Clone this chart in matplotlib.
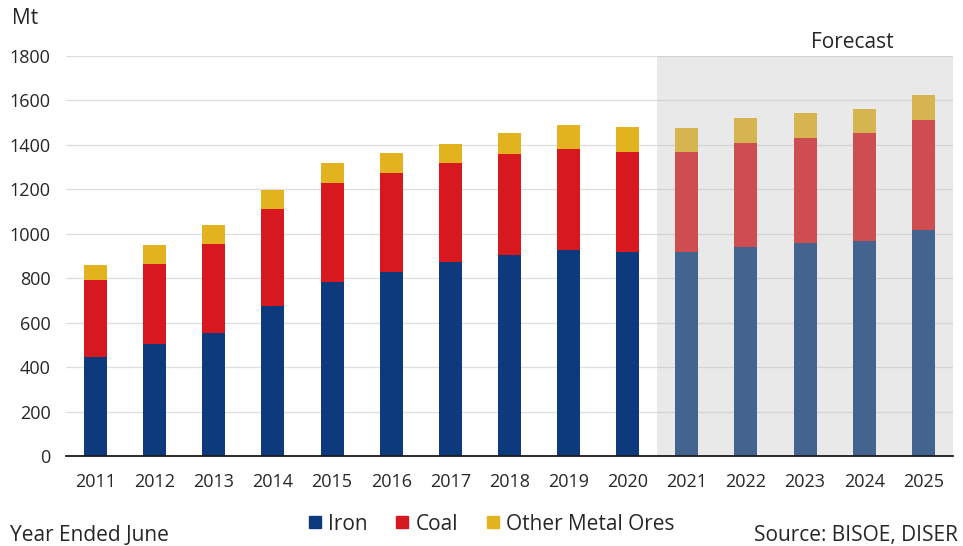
import matplotlib
matplotlib.use("Agg")
import matplotlib.pyplot as plt
from matplotlib.patches import Rectangle
from matplotlib.lines import Line2D
import numpy as np

plt.rcParams['font.family'] = ['Open Sans', 'DejaVu Sans']

years = ['2011', '2012', '2013', '2014', '2015', '2016', '2017', '2018',
         '2019', '2020', '2021', '2022', '2023', '2024', '2025']
iron = [446, 504, 553, 675, 784, 829, 874, 904, 927, 918, 918, 940, 958, 968, 1017]
coal = [346, 360, 401, 436, 445, 445, 444, 455, 455, 450, 450, 468, 473, 485, 495]
other = [68, 86, 86, 86, 89, 89, 86, 94, 108, 113, 108, 113, 112, 108, 112]
forecast_start = '2021'

c_iron = '#0c3a7c'
c_coal = '#d7191f'
c_other = '#e3b21f'
txt = '#262626'

fig = plt.figure(figsize=(9.63, 5.46), dpi=100)
ax = fig.add_axes([0.0685, 0.1648, 0.921, 0.7326])

x = np.arange(len(years))
w = 0.39
iron_a = np.array(iron)
coal_a = np.array(coal)
other_a = np.array(other)
ax.bar(x, iron_a, w, color=c_iron, zorder=2)
ax.bar(x, coal_a, w, bottom=iron_a, color=c_coal, zorder=2)
ax.bar(x, other_a, w, bottom=iron_a + coal_a, color=c_other, zorder=2)

ax.set_xlim(-0.5, len(years) - 0.5)
ax.set_ylim(0, 1800)
ax.set_yticks(np.arange(0, 1801, 200))
ax.set_xticks(x)
ax.set_xticklabels(years)
ax.grid(axis='y', color='#dedede', linewidth=0.9, zorder=0)
ax.set_axisbelow(True)
for s in ['top', 'right', 'left']:
    ax.spines[s].set_visible(False)
ax.spines['bottom'].set_color('#1a1a1a')
ax.spines['bottom'].set_linewidth(1.3)
ax.spines['bottom'].set_zorder(5)
ax.tick_params(length=0, labelsize=13, colors=txt)
ax.tick_params(axis='x', pad=12)
ax.tick_params(axis='y', pad=11)

# shaded forecast period
fs = years.index(forecast_start) - 0.5
ax.add_patch(Rectangle((fs, 0), len(years) - 0.5 - fs, 1800,
                       facecolor='#bdbdbd', alpha=0.32, edgecolor='none', zorder=3))
ax.text(12.8, 1815, 'Forecast', ha='center', va='bottom',
        fontsize=15, color=txt)

fig.text(0.012, 0.966, 'Mt', fontsize=15, color=txt, va='center', ha='left')
fig.text(0.010, 0.020, 'Year Ended June', fontsize=15, color=txt, va='center', ha='left')
fig.text(0.995, 0.020, 'Source: BISOE, DISER', fontsize=15, color=txt, va='center', ha='right')

handles = [Line2D([], [], marker='s', linestyle='none', markersize=8.5, color=c)
           for c in (c_iron, c_coal, c_other)]
fig.legend(handles, ['Iron', 'Coal', 'Other Metal Ores'], loc='center',
           bbox_to_anchor=(0.510, 0.040), ncol=3, frameon=False, fontsize=15,
           handletextpad=0.3, columnspacing=1.3, labelcolor=txt, handlelength=0.7)

fig.savefig('out.png', dpi=100)
